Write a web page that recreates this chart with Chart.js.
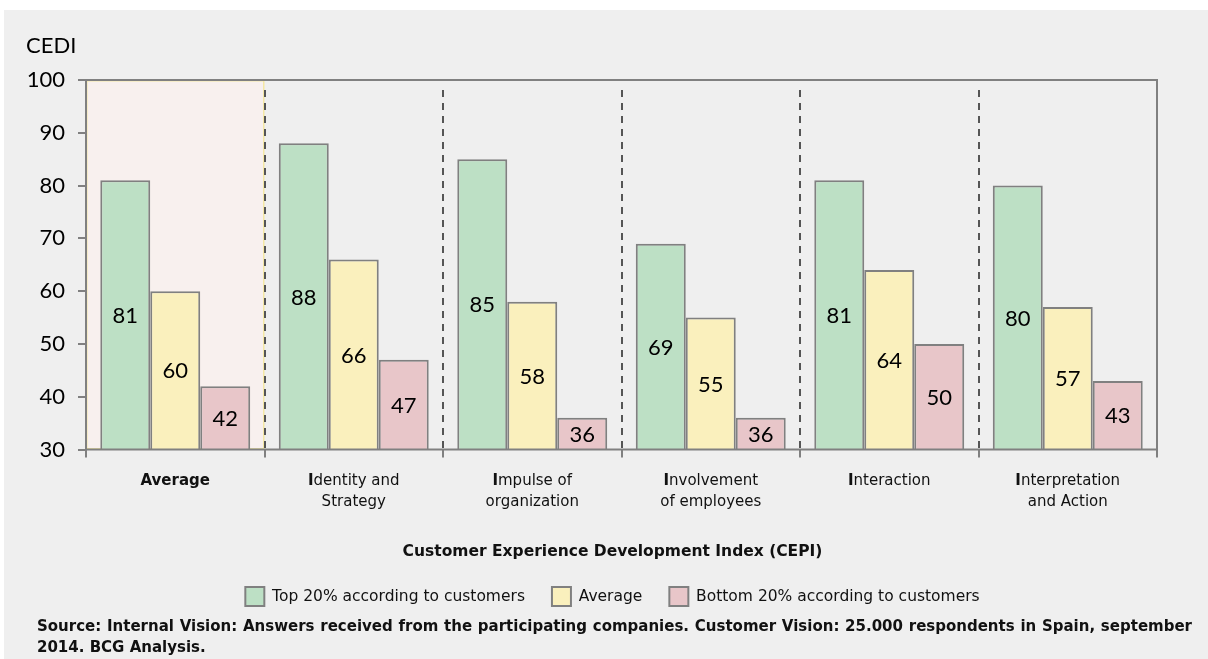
<!DOCTYPE html>
<html>
<head>
<meta charset="utf-8">
<title>CEPI</title>
<script src="https://cdn.jsdelivr.net/npm/chart.js@4/dist/chart.umd.min.js"></script>
<style>
  body { margin: 0; background: #fff; }
  #panel { position: absolute; left: 4px; top: 10px; width: 1204px; height: 649px; background: #efefef; }
  #chart { position: absolute; left: 0; top: 0; }
  #source { position: absolute; left: 37px; top: 616px; width: 1155px; font: bold 15px 'DejaVu Sans', sans-serif; line-height: 21px; color: #111; }
  #source .l1 { text-align: justify; text-align-last: justify; }
</style>
</head>
<body>
<div id="panel"></div>
<canvas id="chart" width="1208" height="620"></canvas>
<div id="source">
  <div class="l1">Source: Internal Vision: Answers received from the participating companies. Customer Vision: 25.000 respondents in Spain, september</div>
  <div>2014. BCG Analysis.</div>
</div>
<script>
const categories = [
  ['Average'],
  ['Identity and', 'Strategy'],
  ['Impulse of', 'organization'],
  ['Involvement', 'of employees'],
  ['Interaction'],
  ['Interpretation', 'and Action'],
];
const top20 = [81, 88, 85, 69, 81, 80];
const average = [60, 66, 58, 55, 64, 57];
const bottom20 = [42, 47, 36, 36, 50, 43];
const yMin = 30;
const yMax = 100;
const yStep = 10;

const GRAY = '#808080';
const NUM_FONT = 'Lato, sans-serif';
const TXT_FONT = "'DejaVu Sans', sans-serif";

// boundary between category i and i + 1
function boundary(x, i) {
  return (x.getPixelForValue(i) + x.getPixelForValue(i + 1)) / 2;
}

// shaded "Average" column behind the bars
const highlight = {
  id: 'highlight',
  beforeDatasetsDraw(chart) {
    const { ctx, chartArea: a } = chart;
    const right = boundary(chart.scales.x, 0);
    ctx.save();
    ctx.fillStyle = '#f8f0ee';
    ctx.fillRect(a.left, a.top, right - a.left, a.bottom - a.top);
    ctx.strokeStyle = '#f4e7a4';
    ctx.lineWidth = 1.5;
    ctx.strokeRect(a.left + 0.75, a.top + 0.75, right - a.left - 1.5, a.bottom - a.top - 1.5);
    ctx.restore();
  },
};

// dashed separators, frame, value labels, axis captions
const decorations = {
  id: 'decorations',
  afterDatasetsDraw(chart) {
    const { ctx, chartArea: a } = chart;
    const x = chart.scales.x;
    const base = chart.scales.y.getPixelForValue(yMin);
    ctx.save();

    ctx.strokeStyle = '#555';
    ctx.lineWidth = 2;
    ctx.setLineDash([7, 6]);
    for (let i = 0; i < categories.length - 1; i++) {
      const bx = Math.round(boundary(x, i));
      ctx.beginPath();
      ctx.moveTo(bx, a.top + 10);
      ctx.lineTo(bx, a.bottom);
      ctx.stroke();
    }
    ctx.setLineDash([]);

    ctx.strokeStyle = GRAY;
    ctx.lineWidth = 2;
    ctx.strokeRect(a.left, a.top, a.right - a.left, a.bottom - a.top);

    // values centred inside each bar
    ctx.fillStyle = '#000';
    ctx.font = `22px ${NUM_FONT}`;
    ctx.textAlign = 'center';
    ctx.textBaseline = 'middle';
    chart.data.datasets.forEach((ds, di) => {
      chart.getDatasetMeta(di).data.forEach((bar, i) => {
        ctx.fillText(String(ds.data[i]), bar.x, (bar.y + base) / 2 + 1);
      });
    });

    // y axis caption
    ctx.textAlign = 'left';
    ctx.textBaseline = 'alphabetic';
    ctx.fillText('CEDI', 26, 53);

    // category labels, first letter in bold
    ctx.fillStyle = '#111';
    ctx.textBaseline = 'middle';
    const bold = `bold 15px ${TXT_FONT}`;
    const normal = `15px ${TXT_FONT}`;
    categories.forEach((lines, i) => {
      const cx = x.getPixelForValue(i);
      lines.forEach((line, li) => {
        const y = a.bottom + 32 + li * 21;
        if (i === 0) {
          ctx.font = bold;
          const w = ctx.measureText(line).width;
          ctx.fillText(line, cx - w / 2, y);
        } else if (li === 0) {
          ctx.font = bold;
          const w1 = ctx.measureText(line[0]).width;
          ctx.font = normal;
          const w2 = ctx.measureText(line.slice(1)).width;
          const start = cx - (w1 + w2) / 2;
          ctx.font = bold;
          ctx.fillText(line[0], start, y);
          ctx.font = normal;
          ctx.fillText(line.slice(1), start + w1, y);
        } else {
          ctx.font = normal;
          const w = ctx.measureText(line).width;
          ctx.fillText(line, cx - w / 2, y);
        }
      });
    });
    ctx.restore();
  },
};

const barStyle = {
  borderColor: GRAY,
  borderWidth: 2,
  categoryPercentage: 0.84,
  barPercentage: 1.0,
};

new Chart(document.getElementById('chart'), {
  type: 'bar',
  data: {
    labels: categories,
    datasets: [
      { label: 'Top 20% according to customers', data: top20, backgroundColor: '#bde0c5', ...barStyle },
      { label: 'Average', data: average, backgroundColor: '#faf0bd', ...barStyle },
      { label: 'Bottom 20% according to customers', data: bottom20, backgroundColor: '#e8c6c9', ...barStyle },
    ],
  },
  options: {
    responsive: false,
    animation: false,
    devicePixelRatio: 1,
    layout: { padding: { left: 17, right: 0, top: 80, bottom: 4 } },
    scales: {
      x: {
        grid: { drawOnChartArea: false, tickLength: 8, color: GRAY, lineWidth: 2, offset: true },
        border: { display: false },
        ticks: { display: false },
        afterFit: (s) => { s.height = 95; },
      },
      y: {
        min: yMin,
        max: yMax,
        grid: { drawOnChartArea: false, tickLength: 8, color: GRAY, lineWidth: 2 },
        border: { display: false },
        ticks: { stepSize: yStep, color: '#000', padding: 13, font: { family: NUM_FONT, size: 22 } },
        afterFit: (s) => { s.width = 69; },
      },
      // empty right-hand gutter so the title and legend centre under the plot
      gutter: {
        position: 'right',
        grid: { display: false },
        border: { display: false },
        ticks: { display: false },
        afterFit: (s) => { s.width = 51; },
      },
    },
    plugins: {
      title: {
        display: true,
        position: 'bottom',
        weight: 500,
        text: 'Customer Experience Development Index (CEPI)',
        color: '#111',
        font: { family: TXT_FONT, size: 15.5, weight: 'bold', lineHeight: 1.0 },
        padding: { top: 0, bottom: 0 },
      },
      legend: {
        position: 'bottom',
        labels: {
          boxWidth: 19,
          boxHeight: 19,
          padding: 27,
          color: '#111',
          font: { family: TXT_FONT, size: 15.5 },
        },
      },
      tooltip: { enabled: false },
    },
  },
  plugins: [highlight, decorations],
});
</script>
</body>
</html>
